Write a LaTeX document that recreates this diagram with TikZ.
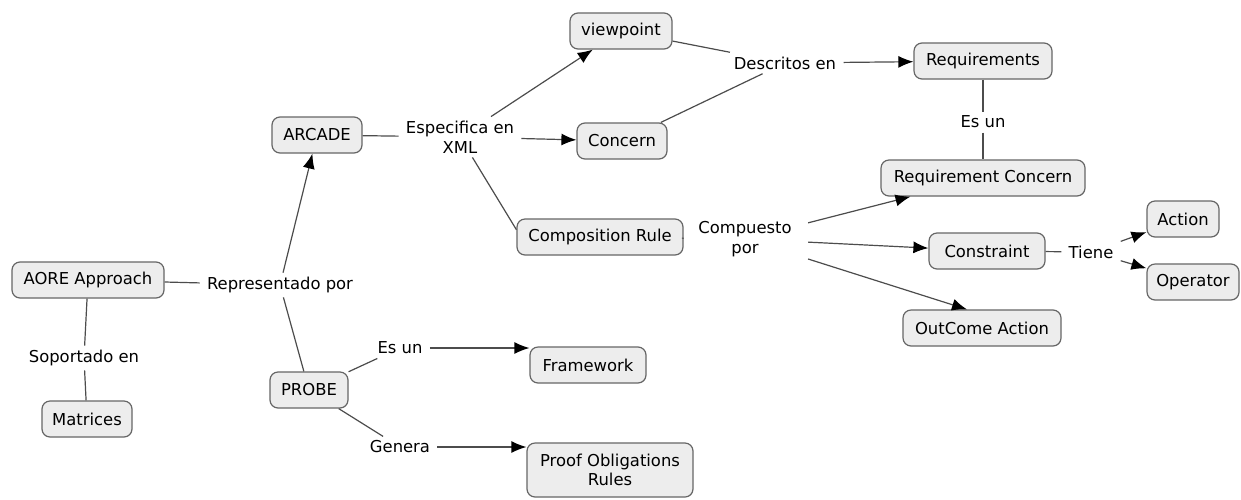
\documentclass[tikz,border=0pt]{standalone}
\usepackage{fontspec}
\setmainfont{DejaVu Sans}
\usetikzlibrary{arrows.meta}

\tikzset{
  concept/.style={draw=black!60, fill=black!7, rounded corners=4pt, line width=0.6pt,
    minimum height=18pt, inner xsep=4pt, inner ysep=2pt, font=\fontsize{8.2}{9.8}\selectfont},
  linkword/.style={inner xsep=3.5pt, inner ysep=2pt, align=center, font=\fontsize{8.2}{9.8}\selectfont},
  conn/.style={draw=black!70, line width=0.6pt},
  arr/.style={conn, -{Latex[length=7.5pt,width=6pt,fill=black,color=black]}},
}

\begin{document}
\begin{tikzpicture}[x=0.5pt, y=-0.5pt]
    \useasboundingbox (0,0) rectangle (1241,499);

    % concepts
    \node[concept, minimum width=76pt] (aore) at (88,280) {AORE Approach};
    \node[concept, minimum width=45pt] (matr) at (87,419) {Matrices};
    \node[concept, minimum width=45pt] (arcade) at (317,135) {ARCADE};
    \node[concept, minimum width=39pt] (probe) at (309,390) {PROBE};
    \node[concept, minimum width=51pt] (view) at (621,31) {viewpoint};
    \node[concept, minimum width=45pt] (conc) at (622,141) {Concern};
    \node[concept, minimum width=83pt] (comp) at (600,237) {Composition Rule};
    \node[concept, minimum width=69pt] (req) at (983,61) {Requirements};
    \node[concept, minimum width=102pt] (reqc) at (983,178) {Requirement Concern};
    \node[concept, minimum width=58pt] (cons) at (987,251) {Constraint};
    \node[concept, minimum width=36pt] (act) at (1183,219) {Action};
    \node[concept, minimum width=46pt] (oper) at (1193,282) {Operator};
    \node[concept, minimum width=79pt] (outc) at (982,328) {OutCome Action};
    \node[concept, minimum width=58pt] (frame) at (588,365) {Framework};
    \node[concept, minimum width=83pt, minimum height=27pt, align=center] (proof) at (610,470) {Proof Obligations\\Rules};

    % linking words
    \node[linkword] (sop) at (84,358) {Soportado en};
    \node[linkword] (rep) at (280,285) {Representado por};
    \node[linkword] (esp) at (460,137) {Especifica en\\XML};
    \node[linkword] (desc) at (785,63) {Descritos en};
    \node[linkword] (esun1) at (983,122) {Es un};
    \node[linkword, inner xsep=8pt] (cpor) at (745,239) {Compuesto\\por};
    \node[linkword] (tiene) at (1091,252) {Tiene};
    \node[linkword] (esun2) at (400,348) {Es un};
    \node[linkword] (gen) at (400,447) {Genera};

    % connectors
    \draw[conn] (aore) -- (sop);
    \draw[conn] (sop) -- (matr);
    \draw[conn] (aore) -- (rep);
    \draw[arr] (rep) -- (arcade);
    \draw[conn] (rep) -- (probe);
    \draw[conn] (arcade) -- (esp);
    \draw[arr] (esp) -- (view);
    \draw[arr] (esp) -- (conc);
    \draw[conn] (esp) -- (comp.175);
    \draw[conn] (view) -- (desc);
    \draw[conn] (conc) -- (desc);
    \draw[arr] (desc) -- (req);
    \draw[conn] (req) -- (esun1);
    \draw[conn] (esun1) -- (reqc);
    \draw[conn] (comp) -- (cpor);
    \draw[arr] (cpor) -- (reqc);
    \draw[arr] (cpor) -- (cons);
    \draw[arr] (cpor) -- ([xshift=-7.5pt]outc.north);
    \draw[conn] (cons) -- (tiene);
    \draw[arr] (tiene) -- (act);
    \draw[arr] (tiene) -- (oper);
    \draw[conn] (probe) -- (esun2);
    \draw[arr] (esun2) -- (esun2 -| frame.west);
    \draw[conn] (probe) -- (gen);
    \draw[arr] (gen) -- (gen -| proof.west);
\end{tikzpicture}
\end{document}
